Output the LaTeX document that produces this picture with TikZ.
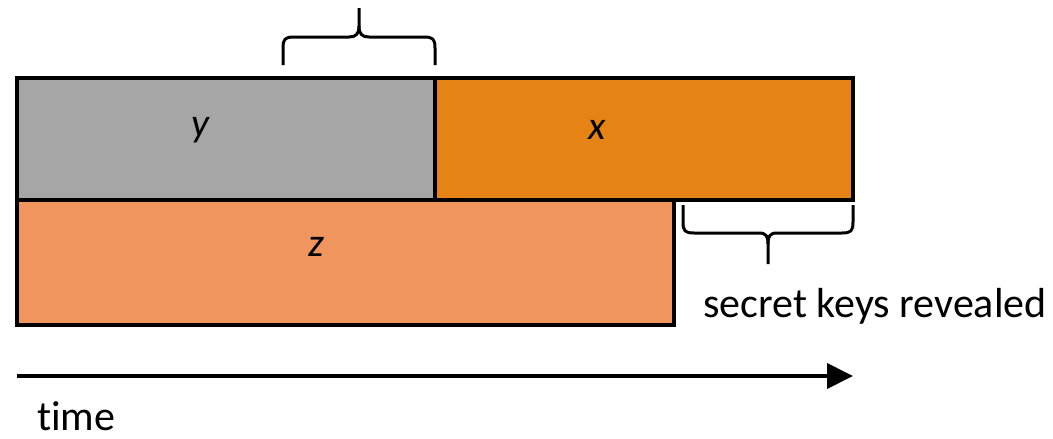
\documentclass[tikz,border=0pt]{standalone}
\usepackage{fontspec}
\setmainfont[Ligatures=NoCommon]{Carlito}
\usetikzlibrary{arrows.meta}
\definecolor{segGray}{HTML}{A6A6A6}
\definecolor{segOrange}{HTML}{E58314}
\definecolor{segSalmon}{HTML}{F1955F}
\tikzset{
  segment/.style={draw=black, line width=4.5pt, inner sep=0pt, outer sep=0pt, anchor=north west},
  varlabel/.style={font=\fontsize{40}{48}\selectfont\itshape, inner sep=0pt},
  plainlabel/.style={font=\fontsize{42}{50}\selectfont, inner sep=0pt, anchor=base west},
  bracket/.style={draw=black, line width=3pt, line join=round},
  timeline/.style={line width=4pt, -{Triangle[length=26pt,width=25pt]}}
}
\begin{document}
\begin{tikzpicture}[x=1pt, y=-1pt]
  \useasboundingbox (0,0) rectangle (1053,439);

  % the three segments
  \node[segment, fill=segGray,   minimum width=418pt, minimum height=122pt] (ybox) at (17,78) {};
  \node[segment, fill=segOrange, minimum width=418pt, minimum height=122pt] (xbox) at (435,78) {};
  \node[segment, fill=segSalmon, minimum width=657pt, minimum height=125pt] (zbox) at (17,200) {};
  % redraw the top row border so it sits over the lower box
  \draw[line width=4.5pt] (ybox.south west) -- (xbox.south east);

  \node[varlabel] (ylab) at (200,130) {y};
  \node[varlabel] (xlab) at (597,130) {x};
  \node[varlabel] (zlab) at (316,247) {z};

  % brace over the tail of y
  \draw[bracket] (283,65) -- (283,48) .. controls (283,39) and (285,37) .. (294,37)
    -- (349,37) .. controls (356,37) and (359,34) .. (359,26) -- (359,8);
  \draw[bracket] (359,26) .. controls (359,34) and (362,37) .. (369,37)
    -- (424,37) .. controls (433,37) and (435,39) .. (435,48) -- (435,65);

  % brace under the tail of x
  \draw[bracket] (683,205) -- (683,222) .. controls (683,231) and (685,233) .. (694,233)
    -- (759,233) .. controls (766,233) and (768,236) .. (768,244) -- (768,264);
  \draw[bracket] (768,244) .. controls (768,236) and (770,233) .. (777,233)
    -- (842,233) .. controls (851,233) and (853,231) .. (853,222) -- (853,205);

  \node[plainlabel] (reveal) at (703,317) {secret keys revealed};

  % time axis
  \coordinate (t0) at (17,376);
  \coordinate (t1) at (853,376);
  \draw[timeline] (t0) -- (t1);
  \node[plainlabel] (time) at (37,430) {time};
\end{tikzpicture}
\end{document}
